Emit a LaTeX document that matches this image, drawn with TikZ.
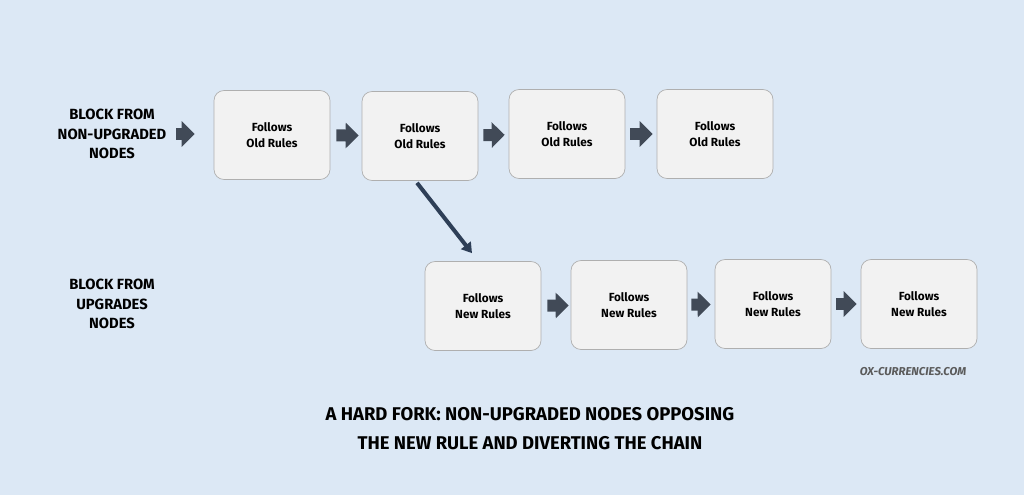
\documentclass[tikz,border=0pt]{standalone}
\usepackage{fontspec}
\setmainfont{Fira Sans}
\usepackage{tikz}
\usetikzlibrary{arrows.meta, positioning}

\definecolor{bgblue}{HTML}{DCE8F5}
\definecolor{boxfill}{HTML}{F2F2F2}
\definecolor{boxline}{HTML}{AFAFAF}
\definecolor{arrdark}{HTML}{414A57}
\definecolor{forkblue}{HTML}{2E3F57}
\definecolor{marktext}{HTML}{5A5A5A}

\begin{document}
\begin{tikzpicture}[
  x=0.02cm, y=0.02cm,
  block/.style={draw=boxline, fill=boxfill, rounded corners=0.2cm, minimum width=2.32cm, minimum height=1.78cm, align=center, font=\fontsize{6.7}{9}\selectfont\bfseries},
  side/.style={align=center, font=\fontsize{8.4}{11.3}\selectfont\bfseries},
  fat/.style={-{Triangle[width=0.5cm, length=0.26cm]}, line width=0.24cm, draw=arrdark},
  fork/.style={-{Triangle[width=0.24cm, length=0.2cm]}, line width=0.08cm, draw=forkblue},
]

% Background
\fill[bgblue] (0,0) rectangle (1024,495);
\useasboundingbox (0,0) rectangle (1024,495);

% Row labels
\node[side] (oldlbl) at (112,361) {BLOCK FROM\\NON-UPGRADED\\NODES};
\node[side] (newlbl) at (112,191) {BLOCK FROM\\UPGRADES\\NODES};

% Old chain
\node[block] (old1) at (272,360) {Follows\\Old Rules};
\node[block] (old2) at (420,359) {Follows\\Old Rules};
\node[block] (old3) at (567,361) {Follows\\Old Rules};
\node[block] (old4) at (715,361) {Follows\\Old Rules};

% New chain
\node[block] (new1) at (483,189) {Follows\\New Rules};
\node[block] (new2) at (629,190) {Follows\\New Rules};
\node[block] (new3) at (773,191) {Follows\\New Rules};
\node[block] (new4) at (919,191) {Follows\\New Rules};

% Links
\draw[fat, shorten <=0.08cm, shorten >=0.38cm] (oldlbl.east) -- (old1.west |- oldlbl.east);
\draw[fat, shorten <=0.12cm, shorten >=0.06cm] (old1) -- (old2);
\draw[fat, shorten <=0.1cm, shorten >=0.08cm] (old2) -- (old3);
\draw[fat, shorten <=0.1cm, shorten >=0.08cm] (old3) -- (old4);
\draw[fat, shorten <=0.12cm, shorten >=0.04cm] (new1) -- (new2);
\draw[fat, shorten <=0.08cm, shorten >=0.08cm] (new2) -- (new3);
\draw[fat, shorten <=0.1cm, shorten >=0.08cm] (new3) -- (new4);

% Fork
\draw[fork] ([xshift=-0.06cm, yshift=-0.04cm]old2.south) -- ([xshift=-0.22cm, yshift=0.16cm]new1.north);

% Caption
\node[font=\fontsize{6.5}{8}\selectfont\bfseries\itshape, text=marktext] (mark) at (913,123) {OX-CURRENCIES.COM};
\node[align=center, font=\fontsize{10.5}{16.4}\selectfont\bfseries] (title) at (530,66) {A HARD FORK: NON-UPGRADED NODES OPPOSING\\THE NEW RULE AND DIVERTING THE CHAIN};

\end{tikzpicture}
\end{document}
